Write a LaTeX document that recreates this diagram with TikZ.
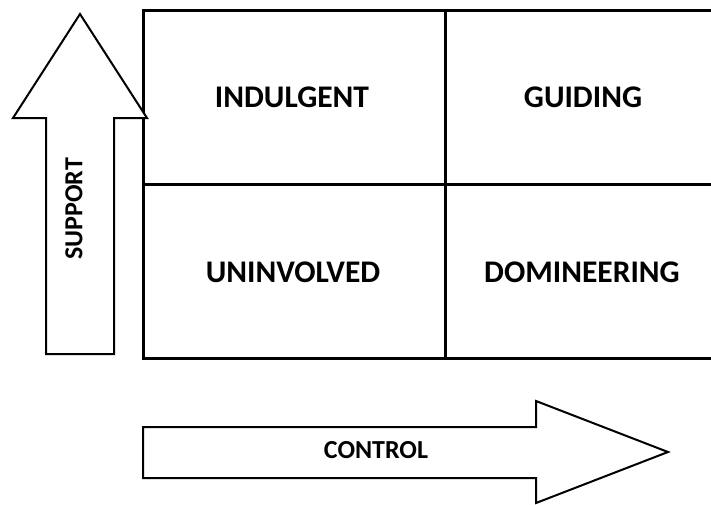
\documentclass[tikz,border=0pt]{standalone}
\usepackage{fontspec}
\setmainfont{Carlito}
\usetikzlibrary{positioning}

\tikzset{
  quadlabel/.style={font=\fontsize{31.5}{36}\selectfont\bfseries},
  axislabel/.style={font=\fontsize{26}{30}\selectfont\bfseries},
  arrowbody/.style={draw=black,fill=white,line width=2pt,line join=miter}
}

\begin{document}
\begin{tikzpicture}[x=1pt,y=-1pt]
  \useasboundingbox[fill=white] (0,0) rectangle (711,504);
  % the four quadrants
  \begin{scope}[line width=3pt]
    \draw (711,10) -- (143,10) -- (143,358) -- (711,358);
    \draw (143,184) -- (711,184);
    \draw (445,10) -- (445,358);
  \end{scope}
  \node[quadlabel] (indulgent)  at (292,97)  {INDULGENT};
  \node[quadlabel] (guiding)    at (583,97)  {GUIDING};
  \node[quadlabel] (uninvolved) at (293,272) {UNINVOLVED};
  \node[quadlabel] (domineer)   at (582,272) {DOMINEERING};
  % support arrow, pointing up
  \draw[arrowbody] (46,354) -- (46,118) -- (13,118) -- (80,14)
        -- (147,118) -- (114,118) -- (114,354) -- cycle;
  \node[axislabel,rotate=90] (support) at (74,209) {SUPPORT};
  % control arrow, pointing right
  \draw[arrowbody] (143,427) -- (536,427) -- (536,401) -- (668,452)
        -- (536,503) -- (536,478) -- (143,478) -- cycle;
  \node[axislabel] (control) at (376,450) {CONTROL};
\end{tikzpicture}
\end{document}
